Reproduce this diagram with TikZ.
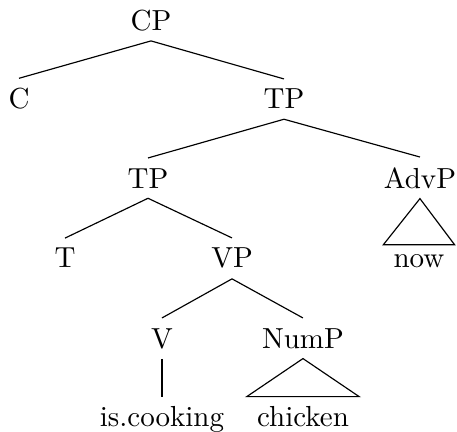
\documentclass[tikz,border=0pt]{standalone}
\begin{document}
\begin{tikzpicture}[cat/.style={anchor=base}]
			\useasboundingbox (0,0) rectangle (5.539,-5.236);
			\node [cat] (cp) at (1.830,-0.364) {CP};
			\node [cat] (c) at (0.230,-1.321) {C};
			\node [cat] (tp) at (3.442,-1.321) {TP};
			\node [cat] (tpl) at (1.794,-2.279) {TP};
			\node [cat] (advp) at (5.090,-2.279) {AdvP};
			\node [cat] (t) at (0.788,-3.248) {T};
			\node [cat] (vp) at (2.812,-3.248) {VP};
			\node [cat] (now) at (5.078,-3.248) {now};
			\node [cat] (v) at (1.963,-4.218) {V};
			\node [cat] (nump) at (3.672,-4.218) {NumP};
			\node [cat] (cook) at (1.963,-5.175) {is.cooking};
			\node [cat] (chick) at (3.672,-5.175) {chicken};
			\draw (cp.south)-- (c.north);
			\draw (cp.south)-- (tp.north);
			\draw (tp.south)-- (tpl.north);
			\draw (tp.south)-- (advp.north);
			\draw (tpl.south)-- (t.north);
			\draw (tpl.south)-- (vp.north);
			\draw (vp.south)-- (v.north);
			\draw (vp.south)-- (nump.north);
			\draw (v.south)-- (cook.north);
			\draw (advp.south)-- (now.north west)-- (now.north east)-- cycle;
			\draw (nump.south)-- (chick.north west)-- (chick.north east)-- cycle;
		\end{tikzpicture}
\end{document}
